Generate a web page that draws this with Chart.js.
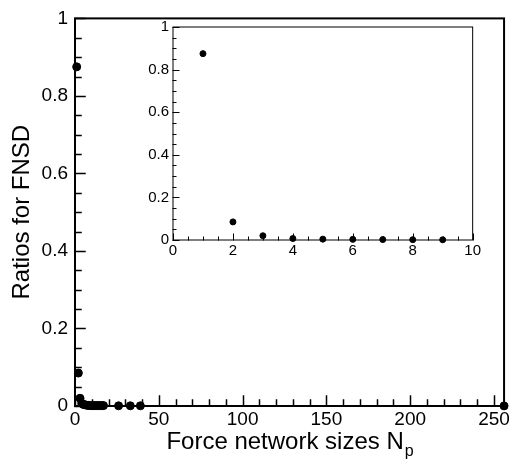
<!DOCTYPE html>
<html>
<head>
<meta charset="utf-8">
<script src="https://cdn.jsdelivr.net/npm/chart.js@4"></script>
<style>
    body { margin: 0; background: #fff; }
    #wrap { position: relative; width: 512px; height: 460px; }
    #main { position: absolute; left: 0; top: 0; }
    #inset { position: absolute; left: 135px; top: 14px; }
</style>
</head>
<body>
<div id="wrap">
    <canvas id="main" width="512" height="460"></canvas>
    <canvas id="inset" width="348" height="250"></canvas>
</div>
<script>
// data
const sizes = [1, 2, 3, 4, 5, 6, 7, 8, 9, 10, 11, 12, 13, 14, 15, 16, 17, 26, 33, 39, 256]
const ratios = [0.875, 0.085, 0.02, 0.007, 0.004, 0.003, 0.002, 0.0015, 0.001, 0.001, 0.001, 0.001, 0.001, 0.001, 0.001, 0.001, 0.001, 0.0005, 0.0005, 0.0005, 0.0003]
const insetSizes = [1, 2, 3, 4, 5, 6, 7, 8, 9]
const insetRatios = [0.875, 0.085, 0.02, 0.007, 0.004, 0.003, 0.002, 0.0015, 0.001]
const xTitle = 'Force network sizes N'
const xTitleSub = 'p'
const yTitle = 'Ratios for FNSD'

const FONT = "'Liberation Sans', Arial, sans-serif"

function toPoints(xs, ys) {
    return xs.map(function (x, i) { return { x: x, y: ys[i] } })
}

// box + inward ticks, drawn through the chart's own scales
const axisBox = {
    id: 'axisBox',
    beforeDatasetsDraw(chart, args, opts) {
        const ctx = chart.ctx
        const a = chart.chartArea
        const x = chart.scales.x
        const y = chart.scales.y
        ctx.save()
        ctx.strokeStyle = '#000'
        ctx.lineWidth = opts.lineWidth
        ctx.lineCap = 'square'
        ctx.strokeRect(a.left, a.top, a.right - a.left, a.bottom - a.top)
        ctx.lineWidth = opts.tickWidth
        ctx.beginPath()
        for (let v = x.min; v <= x.max + 1e-9; v += opts.xMinor) {
            const px = Math.round(x.getPixelForValue(v)) + 0.5
            const major = Math.abs(v / opts.xMajor - Math.round(v / opts.xMajor)) < 1e-6
            const len = major ? opts.major : opts.minor
            ctx.moveTo(px, a.bottom)
            ctx.lineTo(px, a.bottom - len)
        }
        for (let v = y.min; v <= y.max + 1e-9; v += opts.yMinor) {
            const py = Math.round(y.getPixelForValue(v)) + 0.5
            const major = Math.abs(v / opts.yMajor - Math.round(v / opts.yMajor)) < 1e-6
            const len = major ? opts.major : opts.minor
            ctx.moveTo(a.left, py)
            ctx.lineTo(a.left + len, py)
        }
        ctx.stroke()
        ctx.restore()
    },
    afterDraw(chart, args, opts) {
        if (!opts.title) return
        const ctx = chart.ctx
        const a = chart.chartArea
        ctx.save()
        ctx.fillStyle = '#000'
        ctx.textBaseline = 'alphabetic'
        ctx.font = '24px ' + FONT
        const w1 = ctx.measureText(xTitle).width
        ctx.font = '16px ' + FONT
        const w2 = ctx.measureText(xTitleSub).width
        const left = (a.left + a.right) / 2 - (w1 + w2) / 2
        ctx.font = '24px ' + FONT
        ctx.textAlign = 'left'
        ctx.fillText(xTitle, left, 449)
        ctx.font = '16px ' + FONT
        ctx.fillText(xTitleSub, left + w1 + 1, 456)
        ctx.restore()
    }
}

new Chart(document.getElementById('main'), {
    type: 'scatter',
    data: {
        datasets: [{
            data: toPoints(sizes, ratios),
            backgroundColor: '#000',
            borderColor: '#000',
            pointRadius: 4,
            pointHoverRadius: 4,
            clip: false
        }]
    },
    options: {
        responsive: false,
        animation: false,
        events: [],
        layout: { padding: { top: 13, right: 6, left: 0, bottom: 0 } },
        plugins: {
            legend: { display: false },
            tooltip: { enabled: false },
            axisBox: {
                lineWidth: 2, tickWidth: 1.5, major: 10, minor: 6,
                xMinor: 10, xMajor: 50, yMinor: 0.05, yMajor: 0.2, title: true
            }
        },
        scales: {
            x: {
                type: 'linear', min: 0, max: 256,
                grid: { display: false, drawTicks: false },
                border: { display: false },
                ticks: {
                    stepSize: 50, includeBounds: false, padding: 2,
                    color: '#000', font: { family: FONT, size: 19 }
                },
                afterFit: function (s) { s.height = 54 }
            },
            y: {
                min: 0, max: 1,
                grid: { display: false, drawTicks: false },
                border: { display: false },
                ticks: {
                    stepSize: 0.2, padding: 7, color: '#000',
                    font: { family: FONT, size: 19 },
                    callback: function (v) { return Math.round(v * 10) / 10 }
                },
                title: {
                    display: true, text: yTitle, color: '#000',
                    font: { family: FONT, size: 24 }, padding: { top: 8, bottom: 0 }
                },
                afterFit: function (s) { s.width = 75 }
            }
        }
    },
    plugins: [axisBox]
});

new Chart(document.getElementById('inset'), {
    type: 'scatter',
    data: {
        datasets: [{
            data: toPoints(insetSizes, insetRatios),
            backgroundColor: '#000',
            borderColor: '#000',
            pointRadius: 3,
            pointHoverRadius: 3,
            clip: false
        }]
    },
    options: {
        responsive: false,
        animation: false,
        events: [],
        layout: { padding: { top: 10, right: 8, left: 0, bottom: 0 } },
        plugins: {
            legend: { display: false },
            tooltip: { enabled: false },
            axisBox: {
                lineWidth: 1, tickWidth: 1, major: 6, minor: 3,
                xMinor: 0.5, xMajor: 2, yMinor: 0.05, yMajor: 0.2, title: false
            }
        },
        scales: {
            x: {
                type: 'linear', min: 0, max: 10,
                grid: { display: false, drawTicks: false },
                border: { display: false },
                ticks: {
                    stepSize: 2, padding: 2, color: '#000',
                    font: { family: FONT, size: 15 }
                },
                afterFit: function (s) { s.height = 24 }
            },
            y: {
                min: 0, max: 1,
                grid: { display: false, drawTicks: false },
                border: { display: false },
                ticks: {
                    stepSize: 0.2, padding: 4, color: '#000',
                    font: { family: FONT, size: 15 },
                    callback: function (v) { return Math.round(v * 10) / 10 }
                },
                afterFit: function (s) { s.width = 38 }
            }
        }
    },
    plugins: [axisBox]
});
</script>
</body>
</html>
